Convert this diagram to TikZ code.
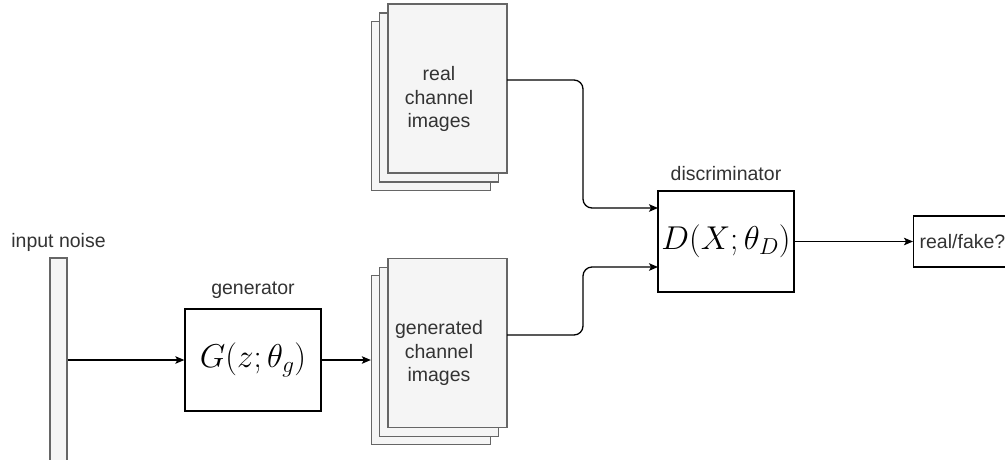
\documentclass[tikz,border=0pt]{standalone}
\usepackage{fix-cm}
\usepackage{fontspec}
\setmainfont{Liberation Sans}
\usetikzlibrary{positioning,arrows.meta}

\definecolor{sheetfill}{HTML}{F5F5F5}
\definecolor{sheetline}{HTML}{666666}
\definecolor{lbltext}{HTML}{333333}

\begin{document}
\begin{tikzpicture}[x=1pt, y=-1pt, line width=1.3pt,
    >={Stealth[length=9pt, width=7.5pt, inset=2pt]},
    main/.style = {draw, rectangle, fill=white, minimum width=136pt, minimum height=102pt, inner sep=0pt, font=\fontsize{33}{38}\selectfont},
    sheet/.style = {draw=sheetline, fill=sheetfill, rectangle, minimum width=119pt, minimum height=169pt, inner sep=0pt},
    lbl/.style = {text=lbltext, font=\fontsize{19.5}{23.5}\selectfont, inner sep=0pt, align=center},
    link/.style = {->, rounded corners=9pt}]
    \useasboundingbox (0,0) rectangle (1005,459);
    \clip (0,0) rectangle (1005,459);

    % noise vector
    \node[sheet, minimum width=17pt, minimum height=244pt] (noise) at (58.5,380) {};
    \node[lbl] (noiselbl) at (58.5,242) {input noise};

    % generator
    \node[main] (G) at (253,360) {$G(z;\theta_g)$};
    \node[lbl, above=9pt of G] (Glbl) {generator};

    % stack of real images
    \node[sheet] (realback) at (431,106) {};
    \node[sheet] (realmid) at (439,97.5) {};
    \node[sheet] (real) at (447.5,88.5) {};
    \node[lbl] (realtxt) at (439,99) {real\\channel\\images};

    % stack of generated images
    \node[sheet] (fakeback) at (431,360) {};
    \node[sheet] (fakemid) at (439,352) {};
    \node[sheet] (fake) at (447.5,343) {};
    \node[lbl] (faketxt) at (439,353) {generated\\channel\\images};

    % discriminator and output
    \node[main, minimum height=101pt] (D) at (726,241.5) {$D(X;\theta_D)$};
    \node[lbl, above=9pt of D] (Dlbl) {discriminator};
    \node[draw, rectangle, minimum width=130pt, minimum height=51pt, anchor=west] (out) at (913,241.5) {};
    \node[lbl, anchor=west] (outtxt) at (919,241.5) {real/fake?};

    \coordinate (realout) at (507,80);
    \coordinate (fakeout) at (507,335);
    \coordinate (Din1) at (658,208);
    \coordinate (Din2) at (658,267);

    \draw[->] (noise.east |- G.west) -- (G.west);
    \draw[->] (G.east) -- (fakeback.west |- G.east);
    \draw[link] (realout) -- (583,80) -- (583,208) -- (Din1);
    \draw[link] (fakeout) -- (583,335) -- (583,267) -- (Din2);
    \draw[->] (D.east) -- (out.west);
\end{tikzpicture}
\end{document}
